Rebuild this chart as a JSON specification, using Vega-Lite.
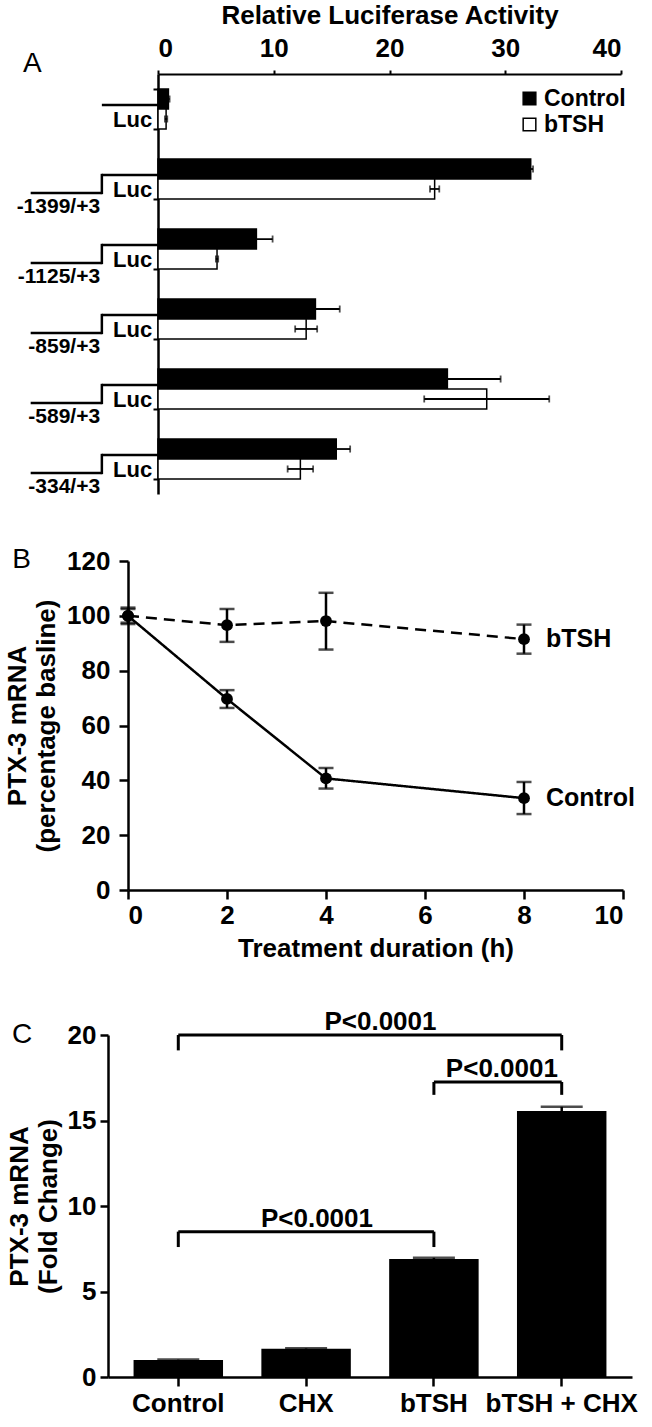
{
  "$schema": "https://vega.github.io/schema/vega-lite/v6.json",
  "padding": {"left": 4, "top": 2, "right": 0, "bottom": 0},
  "spacing": 48,
  "config": {
    "font": "Liberation Sans",
    "view": {"stroke": null},
    "axis": {
      "domainColor": "black", "tickColor": "black", "labelColor": "black", "titleColor": "black",
      "labelFontWeight": "bold", "titleFontWeight": "bold", "grid": false
    }
  },
  "datasets": {
    "luciferase": [
      {"construct": "Luc only", "treatment": "Control", "activity": 0.9, "lo": 0.8, "hi": 1.0},
      {"construct": "Luc only", "treatment": "bTSH", "activity": 0.7, "lo": 0.6, "hi": 0.8},
      {"construct": "-1399/+3", "treatment": "Control", "activity": 32.2, "lo": 32.0, "hi": 32.4},
      {"construct": "-1399/+3", "treatment": "bTSH", "activity": 23.9, "lo": 23.5, "hi": 24.3},
      {"construct": "-1125/+3", "treatment": "Control", "activity": 8.5, "lo": 7.1, "hi": 9.9},
      {"construct": "-1125/+3", "treatment": "bTSH", "activity": 5.1, "lo": 5.0, "hi": 5.2},
      {"construct": "-859/+3", "treatment": "Control", "activity": 13.6, "lo": 11.5, "hi": 15.7},
      {"construct": "-859/+3", "treatment": "bTSH", "activity": 12.8, "lo": 11.85, "hi": 13.75},
      {"construct": "-589/+3", "treatment": "Control", "activity": 25.0, "lo": 20.4, "hi": 29.6},
      {"construct": "-589/+3", "treatment": "bTSH", "activity": 28.4, "lo": 23.0, "hi": 33.8},
      {"construct": "-334/+3", "treatment": "Control", "activity": 15.4, "lo": 14.2, "hi": 16.6},
      {"construct": "-334/+3", "treatment": "bTSH", "activity": 12.3, "lo": 11.2, "hi": 13.4}
    ],
    "timecourse": [
      {"treatment": "bTSH", "hours": 0, "mRNA": 100, "lo": 97, "hi": 103},
      {"treatment": "bTSH", "hours": 2, "mRNA": 96.6, "lo": 90.5, "hi": 102.5},
      {"treatment": "bTSH", "hours": 4, "mRNA": 98.1, "lo": 87.7, "hi": 108.4},
      {"treatment": "bTSH", "hours": 8, "mRNA": 91.5, "lo": 86.2, "hi": 96.8},
      {"treatment": "Control", "hours": 0, "mRNA": 100, "lo": 97.5, "hi": 102.5},
      {"treatment": "Control", "hours": 2, "mRNA": 69.7, "lo": 66.4, "hi": 72.9},
      {"treatment": "Control", "hours": 4, "mRNA": 40.7, "lo": 37.0, "hi": 44.5},
      {"treatment": "Control", "hours": 8, "mRNA": 33.5, "lo": 27.7, "hi": 39.4}
    ],
    "foldchange": [
      {"condition": "Control", "fold": 1.0, "hi": 1.02},
      {"condition": "CHX", "fold": 1.65, "hi": 1.68},
      {"condition": "bTSH", "fold": 6.9, "hi": 6.97},
      {"condition": "bTSH + CHX", "fold": 15.55, "hi": 15.8}
    ],
    "comparisons": [
      {"from": "Control", "to": "bTSH + CHX", "level": 20, "legEnd": 19.1, "label": "P<0.0001"},
      {"from": "bTSH", "to": "bTSH + CHX", "level": 17.25, "legEnd": 16.5, "label": "P<0.0001"},
      {"from": "Control", "to": "bTSH", "level": 8.5, "legEnd": 7.6, "label": "P<0.0001"}
    ]
  },
  "vconcat": [
    {
      "width": 513,
      "height": 420,
      "data": {"name": "luciferase"},
      "layer": [
        {
          "mark": {"type": "bar", "stroke": "black", "strokeWidth": 1.5},
          "encoding": {
            "y": {
              "field": "construct", "type": "nominal",
              "scale": {"domain": ["Luc only", "-1399/+3", "-1125/+3", "-859/+3", "-589/+3", "-334/+3"], "paddingInner": 0.43, "paddingOuter": 0.215},
              "axis": {"title": null, "labels": false, "tickBand": "extent", "tickSize": 5, "tickWidth": 2, "domainWidth": 2.5, "offset": -50}
            },
            "yOffset": {"field": "treatment", "type": "nominal", "scale": {"domain": ["Control", "bTSH"], "paddingInner": 0, "paddingOuter": 0}},
            "x": {
              "field": "activity", "type": "quantitative", "title": "Relative Luciferase Activity",
              "scale": {"domain": [0, 40], "range": [50, 513]},
              "axis": {"orient": "top", "values": [0, 10, 20, 30, 40], "labelFontSize": 26, "titleFontSize": 26, "tickSize": 4, "tickWidth": 2, "domainWidth": 2, "labelPadding": 9, "titlePadding": 7}
            },
            "fill": {
              "field": "treatment", "type": "nominal",
              "scale": {"domain": ["Control", "bTSH"], "range": ["black", "white"]},
              "legend": {"orient": "none", "legendX": 410, "legendY": 13, "title": null, "symbolType": "square", "symbolSize": 160, "symbolStrokeColor": "black", "symbolStrokeWidth": 1.5, "labelFontSize": 23, "labelFontWeight": "bold", "labelColor": "black", "rowPadding": 2, "labelOffset": 3, "padding": 0}
            }
          }
        },
        {
          "mark": {"type": "rule", "color": "black", "strokeWidth": 1.8},
          "encoding": {
            "y": {"field": "construct", "type": "nominal"},
            "yOffset": {"field": "treatment", "type": "nominal"},
            "x": {"field": "lo", "type": "quantitative", "title": "Relative Luciferase Activity"},
            "x2": {"field": "hi"}
          }
        },
        {
          "mark": {"type": "tick", "orient": "vertical", "color": "black", "size": 7, "thickness": 1.8},
          "encoding": {
            "y": {"field": "construct", "type": "nominal"},
            "yOffset": {"field": "treatment", "type": "nominal"},
            "x": {"field": "hi", "type": "quantitative", "title": "Relative Luciferase Activity"}
          }
        },
        {
          "mark": {"type": "tick", "orient": "vertical", "color": "black", "size": 7, "thickness": 1.8},
          "encoding": {
            "y": {"field": "construct", "type": "nominal"},
            "yOffset": {"field": "treatment", "type": "nominal"},
            "x": {"field": "lo", "type": "quantitative", "title": "Relative Luciferase Activity"}
          }
        },
        {
          "transform": [{"filter": "datum.treatment == 'Control'"}],
          "mark": {"type": "rule", "color": "black", "strokeWidth": 2.5},
          "encoding": {
            "y": {"field": "construct", "type": "nominal", "bandPosition": 0.4},
            "x": {"datum": -4.85},
            "x2": {"datum": 0}
          }
        },
        {
          "transform": [{"filter": "datum.treatment == 'Control' && datum.construct != 'Luc only'"}],
          "mark": {"type": "rule", "color": "black", "strokeWidth": 2.5},
          "encoding": {
            "y": {"field": "construct", "type": "nominal", "bandPosition": 0.85},
            "x": {"datum": -11.0},
            "x2": {"datum": -4.85}
          }
        },
        {
          "transform": [{"filter": "datum.treatment == 'Control' && datum.construct != 'Luc only'"}],
          "mark": {"type": "rule", "color": "black", "strokeWidth": 2.5},
          "encoding": {
            "y": {"field": "construct", "type": "nominal", "bandPosition": 0.37},
            "y2": {"field": "construct", "bandPosition": 0.88},
            "x": {"datum": -4.85}
          }
        },
        {
          "transform": [{"filter": "datum.treatment == 'Control'"}],
          "mark": {"type": "text", "text": "Luc", "align": "right", "baseline": "middle", "fontSize": 22, "fontWeight": "bold", "color": "black"},
          "encoding": {
            "y": {"field": "construct", "type": "nominal", "bandPosition": 0.77},
            "x": {"datum": -0.5}
          }
        },
        {
          "transform": [{"filter": "datum.treatment == 'Control' && datum.construct != 'Luc only'"}],
          "mark": {"type": "text", "align": "right", "baseline": "middle", "fontSize": 21, "fontWeight": "bold", "color": "black"},
          "encoding": {
            "y": {"field": "construct", "type": "nominal", "bandPosition": 1.19},
            "x": {"datum": -5.0},
            "text": {"field": "construct"}
          }
        },
        {
          "data": {"values": [{"panel": "A"}]},
          "mark": {"type": "text", "align": "left", "baseline": "middle", "fontSize": 28, "fontWeight": "normal", "color": "black"},
          "encoding": {
            "y": {"datum": "Luc only", "type": "nominal", "bandPosition": -0.625},
            "x": {"datum": -11.66},
            "text": {"field": "panel"}
          }
        }
      ]
    },
    {
      "width": 515,
      "height": 329,
      "data": {"name": "timecourse"},
      "layer": [
        {
          "mark": {"type": "line", "color": "black", "strokeWidth": 2.5},
          "encoding": {
            "x": {
              "field": "hours", "type": "quantitative", "title": "Treatment duration (h)",
              "scale": {"domain": [0, 10], "range": [20, 515]},
              "axis": {"values": [0, 2, 4, 6, 8, 10], "labelFontSize": 26, "titleFontSize": 26, "tickSize": 9, "tickWidth": 2.5, "domainWidth": 2.5, "labelPadding": 3, "titlePadding": 7}
            },
            "y": {
              "field": "mRNA", "type": "quantitative", "title": ["PTX-3 mRNA", "(percentage basline)"],
              "scale": {"domain": [0, 120]},
              "axis": {"values": [0, 20, 40, 60, 80, 100, 120], "labelFontSize": 26, "titleFontSize": 26, "titleLineHeight": 29, "tickSize": 9, "tickWidth": 2.5, "domainWidth": 2.5, "labelPadding": 9, "titlePadding": 7, "offset": -20}
            },
            "strokeDash": {"field": "treatment", "type": "nominal", "scale": {"domain": ["bTSH", "Control"], "range": [[11, 7], [1, 0]]}, "legend": null}
          }
        },
        {
          "mark": {"type": "rule", "color": "black", "strokeWidth": 2.5},
          "encoding": {
            "x": {"field": "hours", "type": "quantitative", "title": "Treatment duration (h)"},
            "y": {"field": "lo", "type": "quantitative", "title": ["PTX-3 mRNA", "(percentage basline)"]},
            "y2": {"field": "hi"}
          }
        },
        {
          "mark": {"type": "tick", "orient": "horizontal", "color": "black", "size": 15, "thickness": 2.5},
          "encoding": {
            "x": {"field": "hours", "type": "quantitative", "title": "Treatment duration (h)"},
            "y": {"field": "lo", "type": "quantitative", "title": ["PTX-3 mRNA", "(percentage basline)"]}
          }
        },
        {
          "mark": {"type": "tick", "orient": "horizontal", "color": "black", "size": 15, "thickness": 2.5},
          "encoding": {
            "x": {"field": "hours", "type": "quantitative", "title": "Treatment duration (h)"},
            "y": {"field": "hi", "type": "quantitative", "title": ["PTX-3 mRNA", "(percentage basline)"]}
          }
        },
        {
          "mark": {"type": "point", "filled": true, "size": 140, "color": "black", "opacity": 1},
          "encoding": {
            "x": {"field": "hours", "type": "quantitative", "title": "Treatment duration (h)"},
            "y": {"field": "mRNA", "type": "quantitative", "title": ["PTX-3 mRNA", "(percentage basline)"]}
          }
        },
        {
          "transform": [{"filter": "datum.hours == 8"}],
          "mark": {"type": "text", "align": "left", "baseline": "middle", "dx": 22, "fontSize": 25, "fontWeight": "bold", "color": "black"},
          "encoding": {
            "x": {"field": "hours", "type": "quantitative", "title": "Treatment duration (h)"},
            "y": {"field": "mRNA", "type": "quantitative", "title": ["PTX-3 mRNA", "(percentage basline)"]},
            "text": {"field": "treatment"}
          }
        },
        {
          "data": {"values": [{"panel": "B"}]},
          "mark": {"type": "text", "align": "left", "baseline": "middle", "fontSize": 28, "fontWeight": "normal", "color": "black"},
          "encoding": {
            "x": {"datum": -2.34},
            "y": {"datum": 120.4},
            "text": {"field": "panel"}
          }
        }
      ]
    },
    {
      "width": 524,
      "height": 342,
      "layer": [
        {
          "data": {"name": "foldchange"},
          "mark": {"type": "bar", "color": "black"},
          "encoding": {
            "x": {
              "field": "condition", "type": "nominal", "title": null,
              "scale": {"domain": ["Control", "CHX", "bTSH", "bTSH + CHX"], "paddingInner": 0.3, "paddingOuter": 0.2},
              "axis": {"labelAngle": 0, "labelFontSize": 26, "tickSize": 9, "tickWidth": 2.5, "domainWidth": 2.5, "labelPadding": 4}
            },
            "y": {
              "field": "fold", "type": "quantitative", "title": ["PTX-3 mRNA", "(Fold Change)"],
              "scale": {"domain": [0, 20]},
              "axis": {"values": [0, 5, 10, 15, 20], "labelFontSize": 26, "titleFontSize": 26, "titleLineHeight": 29, "tickSize": 8, "tickWidth": 2.5, "domainWidth": 2.5, "labelPadding": 4, "titlePadding": 6}
            }
          }
        },
        {
          "data": {"name": "foldchange"},
          "mark": {"type": "rule", "color": "black", "strokeWidth": 2.5},
          "encoding": {
            "x": {"field": "condition", "type": "nominal", "title": null},
            "y": {"field": "fold", "type": "quantitative", "title": ["PTX-3 mRNA", "(Fold Change)"]},
            "y2": {"field": "hi"}
          }
        },
        {
          "data": {"name": "foldchange"},
          "mark": {"type": "tick", "orient": "horizontal", "color": "black", "size": 42, "thickness": 2.5},
          "encoding": {
            "x": {"field": "condition", "type": "nominal", "title": null},
            "y": {"field": "hi", "type": "quantitative", "title": ["PTX-3 mRNA", "(Fold Change)"]}
          }
        },
        {
          "data": {"name": "comparisons"},
          "mark": {"type": "rule", "color": "black", "strokeWidth": 3},
          "encoding": {
            "x": {"field": "from", "type": "nominal", "title": null},
            "x2": {"field": "to"},
            "y": {"field": "level", "type": "quantitative", "title": ["PTX-3 mRNA", "(Fold Change)"]}
          }
        },
        {
          "data": {"name": "comparisons"},
          "mark": {"type": "rule", "color": "black", "strokeWidth": 3},
          "encoding": {
            "x": {"field": "from", "type": "nominal", "title": null},
            "y": {"field": "level", "type": "quantitative", "title": ["PTX-3 mRNA", "(Fold Change)"]},
            "y2": {"field": "legEnd"}
          }
        },
        {
          "data": {"name": "comparisons"},
          "mark": {"type": "rule", "color": "black", "strokeWidth": 3},
          "encoding": {
            "x": {"field": "to", "type": "nominal", "title": null},
            "y": {"field": "level", "type": "quantitative", "title": ["PTX-3 mRNA", "(Fold Change)"]},
            "y2": {"field": "legEnd"}
          }
        },
        {
          "data": {"name": "comparisons"},
          "transform": [{"filter": "datum.from == 'Control' && datum.to == 'bTSH + CHX'"}],
          "mark": {"type": "text", "align": "center", "baseline": "alphabetic", "dy": -5, "fontSize": 26, "fontWeight": "bold", "color": "black"},
          "encoding": {
            "x": {"field": "from", "type": "nominal", "title": null, "bandPosition": 2.76},
            "y": {"field": "level", "type": "quantitative", "title": ["PTX-3 mRNA", "(Fold Change)"]},
            "text": {"field": "label"}
          }
        },
        {
          "data": {"name": "comparisons"},
          "transform": [{"filter": "datum.from == 'bTSH'"}],
          "mark": {"type": "text", "align": "center", "baseline": "alphabetic", "dy": -5, "fontSize": 26, "fontWeight": "bold", "color": "black"},
          "encoding": {
            "x": {"field": "from", "type": "nominal", "title": null, "bandPosition": 1.26},
            "y": {"field": "level", "type": "quantitative", "title": ["PTX-3 mRNA", "(Fold Change)"]},
            "text": {"field": "label"}
          }
        },
        {
          "data": {"name": "comparisons"},
          "transform": [{"filter": "datum.from == 'Control' && datum.to == 'bTSH'"}],
          "mark": {"type": "text", "align": "center", "baseline": "alphabetic", "dy": -5, "fontSize": 26, "fontWeight": "bold", "color": "black"},
          "encoding": {
            "x": {"field": "from", "type": "nominal", "title": null, "bandPosition": 2.05},
            "y": {"field": "level", "type": "quantitative", "title": ["PTX-3 mRNA", "(Fold Change)"]},
            "text": {"field": "label"}
          }
        },
        {
          "data": {"values": [{"panel": "C"}]},
          "mark": {"type": "text", "align": "left", "baseline": "middle", "fontSize": 28, "fontWeight": "normal", "color": "black"},
          "encoding": {
            "x": {"datum": "Control", "type": "nominal", "bandPosition": -1.36},
            "y": {"datum": 20, "type": "quantitative"},
            "text": {"field": "panel"}
          }
        }
      ]
    }
  ]
}
